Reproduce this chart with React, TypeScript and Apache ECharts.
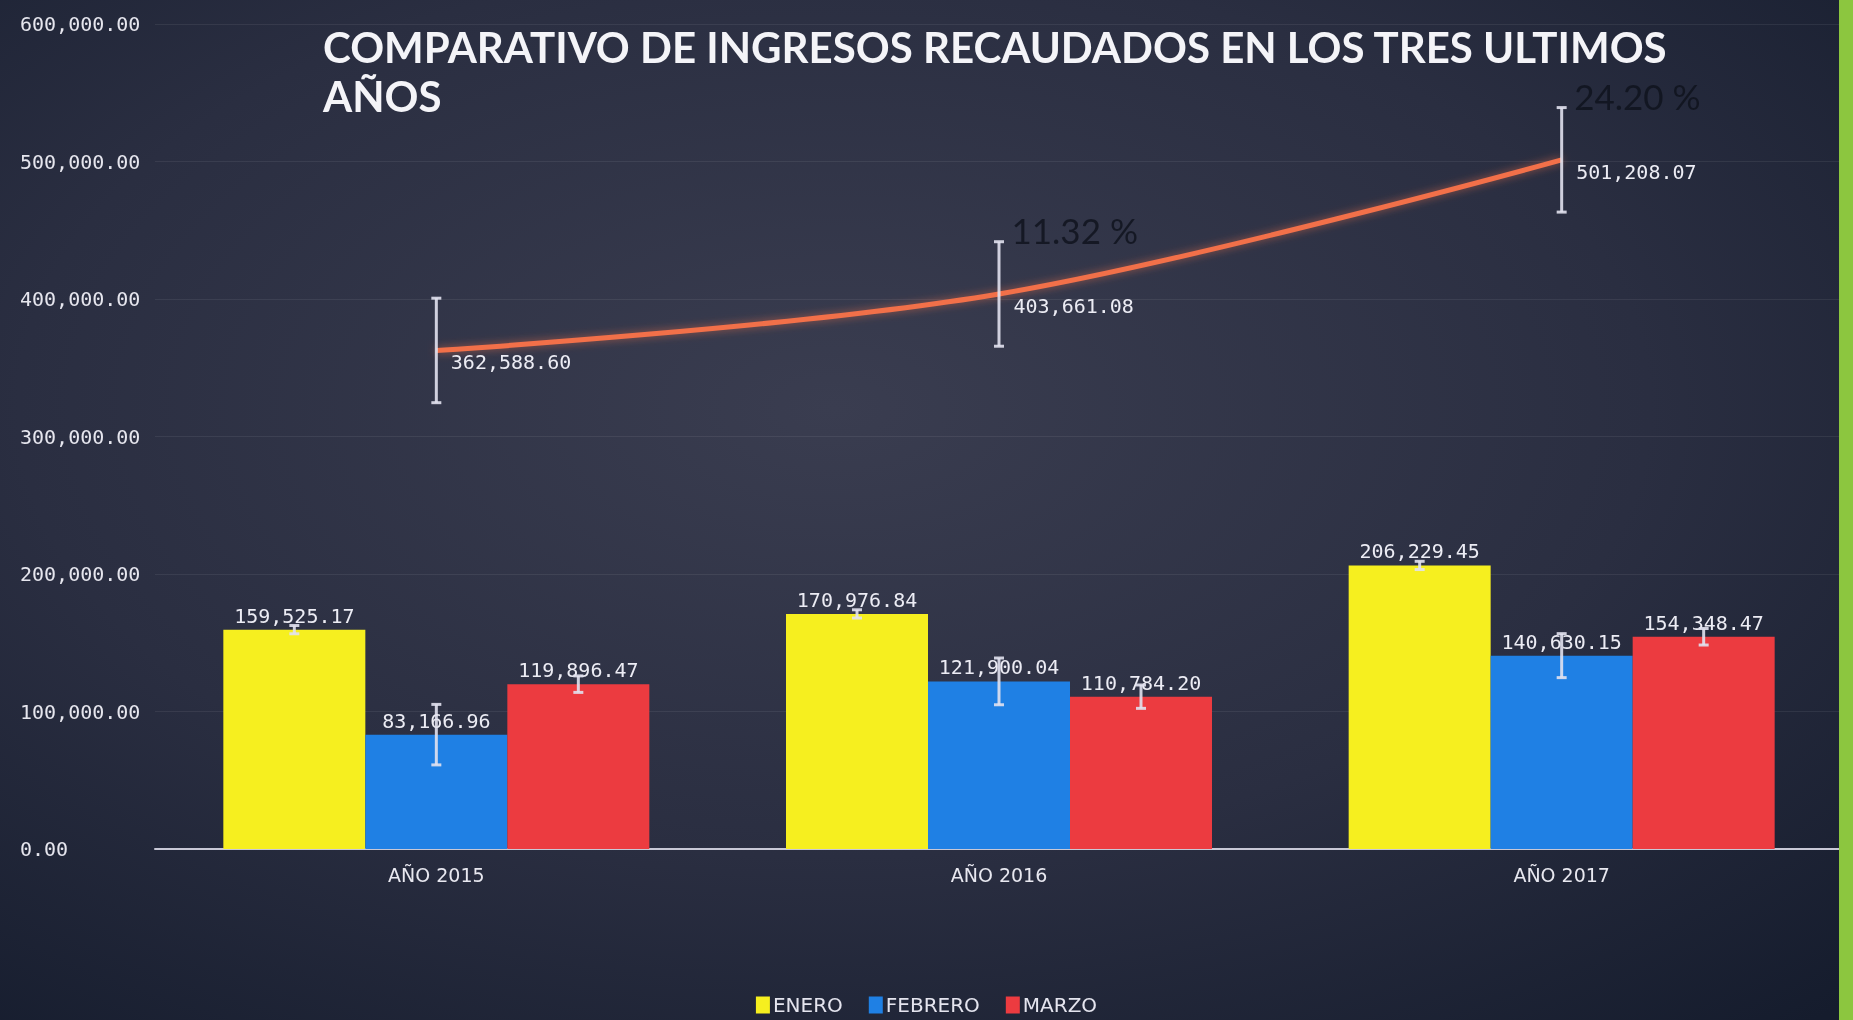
import React, { useEffect, useRef } from "react";
import * as echarts from "echarts";

const categories = ["AÑO 2015", "AÑO 2016", "AÑO 2017"];
const seriesNames = ["ENERO", "FEBRERO", "MARZO"];
const enero = [159525.17, 170976.84, 206229.45];
const febrero = [83166.96, 121900.04, 140630.15];
const marzo = [119896.47, 110784.2, 154348.47];
const total = [362588.6, 403661.08, 501208.07];
const growthLabels = ["", "11.32 %", "24.20 %"];
const eneroErr = [3000, 3000, 3000];
const febreroErr = [22000, 17000, 16000];
const marzoErr = [6000, 8500, 6000];
const totalErr = [38000, 38000, 38000];
const yMin = 0;
const yMax = 600000;
const yInterval = 100000;

const colors = ["#f6ef1f", "#1f80e4", "#ec3b40"];
const lineColor = "#f2704a";
const BAR_W = 142;

const fmt = (v: number) =>
  v.toLocaleString("en-US", { minimumFractionDigits: 2, maximumFractionDigits: 2 });

const monoFont = "DejaVu Sans Mono";
const sansFont = "DejaVu Sans";

function errorSeries(values: number[], errs: number[], offset: number) {
  return {
    type: "custom",
    silent: true,
    z: 6,
    data: values.map((v, i) => [i, v, errs[i]]),
    encode: { x: 0, y: 1 },
    renderItem: (params: any, api: any) => {
      const x = api.value(0);
      const v = api.value(1);
      const e = api.value(2);
      const top = api.coord([x, v + e]);
      const bot = api.coord([x, v - e]);
      const cx = top[0] + offset;
      const style = { stroke: "rgba(225,225,238,0.9)", lineWidth: 3 };
      return {
        type: "group",
        children: [
          { type: "line", shape: { x1: cx, y1: top[1], x2: cx, y2: bot[1] }, style },
          { type: "line", shape: { x1: cx - 5, y1: top[1], x2: cx + 5, y2: top[1] }, style },
          { type: "line", shape: { x1: cx - 5, y1: bot[1], x2: cx + 5, y2: bot[1] }, style },
        ],
      };
    },
  };
}

export default function App() {
  const ref = useRef<HTMLDivElement>(null);
  useEffect(() => {
    if (!ref.current) return;
    const chart = echarts.init(ref.current, null, { renderer: "svg" });
    const barLabel = {
      show: true,
      position: "top",
      distance: 4,
      color: "#ececf4",
      fontFamily: monoFont,
      fontSize: 20,
      formatter: (p: any) => fmt(p.value),
    };
    const barData = [enero, febrero, marzo];
    chart.setOption({
      animation: false,
      backgroundColor: {
        type: "radial",
        x: 0.45,
        y: 0.4,
        r: 0.8,
        colorStops: [
          { offset: 0, color: "#3a3d50" },
          { offset: 0.55, color: "#2a2e41" },
          { offset: 1, color: "#151c2d" },
        ],
      },
      title: {
        text: "COMPARATIVO DE INGRESOS RECAUDADOS EN LOS TRES ULTIMOS\nAÑOS",
        left: 323,
        top: 22,
        padding: 0,
        textStyle: {
          fontFamily: "Lato",
          fontWeight: "bold",
          fontSize: 42,
          lineHeight: 49,
          color: "#f4f4f8",
        },
      },
      legend: {
        data: seriesNames,
        bottom: 0,
        left: "center",
        icon: "rect",
        itemWidth: 14,
        itemHeight: 17,
        itemGap: 26,
        textStyle: { color: "#e4e4ee", fontFamily: sansFont, fontSize: 20, padding: [0, 0, 0, -2] },
      },
      grid: { left: 155, right: 10, top: 24, bottom: 171 },
      xAxis: {
        type: "category",
        data: categories,
        axisLine: { show: true, lineStyle: { color: "#c8c8d6", width: 2 } },
        axisTick: { show: false },
        axisLabel: { color: "#e8e8f0", fontFamily: sansFont, fontSize: 19, margin: 16 },
      },
      yAxis: {
        type: "value",
        min: yMin,
        max: yMax,
        interval: yInterval,
        axisLine: { show: false },
        axisTick: { show: false },
        splitLine: { show: true, lineStyle: { color: "rgba(255,255,255,0.07)", width: 1 } },
        axisLabel: {
          color: "#e6e6ee",
          fontFamily: monoFont,
          fontSize: 20,
          align: "left",
          margin: 135,
          formatter: (v: number) => fmt(v),
        },
      },
      series: [
        ...barData.map((d, i) => ({
          name: seriesNames[i],
          type: "bar",
          data: d,
          barWidth: BAR_W,
          barGap: "0%",
          itemStyle: { color: colors[i] },
          label: barLabel,
          z: 3,
        })),
        errorSeries(enero, eneroErr, -BAR_W),
        errorSeries(febrero, febreroErr, 0),
        errorSeries(marzo, marzoErr, BAR_W),
        {
          name: "TOTAL",
          type: "line",
          data: total,
          smooth: 0.35,
          showSymbol: true,
          symbol: "circle",
          symbolSize: 1,
          itemStyle: { color: "rgba(0,0,0,0)", borderWidth: 0 },
          z: 5,
          lineStyle: {
            color: lineColor,
            width: 5,
            shadowColor: "rgba(242,112,74,0.6)",
            shadowBlur: 8,
          },
          label: {
            show: true,
            position: "right",
            distance: 14,
            offset: [0, 12],
            color: "#ececf4",
            fontFamily: monoFont,
            fontSize: 20,
            formatter: (p: any) => fmt(p.value),
          },
        },
        errorSeries(total, totalErr, 0),
        {
          name: "CRECIMIENTO",
          type: "scatter",
          data: total,
          symbolSize: 1,
          itemStyle: { color: "rgba(0,0,0,0)" },
          silent: true,
          z: 7,
          label: {
            show: true,
            position: "right",
            distance: 12,
            offset: [0, -64],
            color: "#0e111c",
            fontFamily: "Lato",
            fontSize: 35,
            formatter: (p: any) => growthLabels[p.dataIndex],
          },
        },
      ],
      graphic: [
        {
          type: "rect",
          right: 0,
          top: 0,
          shape: { width: 14, height: 1020 },
          style: { fill: "#8cc63f" },
          z: 10,
        },
      ],
    });
    return () => chart.dispose();
  }, []);
  return (
    <div
      ref={ref}
      style={{ position: "fixed", left: 0, top: 0, width: "1853px", height: "1020px" }}
    />
  );
}
